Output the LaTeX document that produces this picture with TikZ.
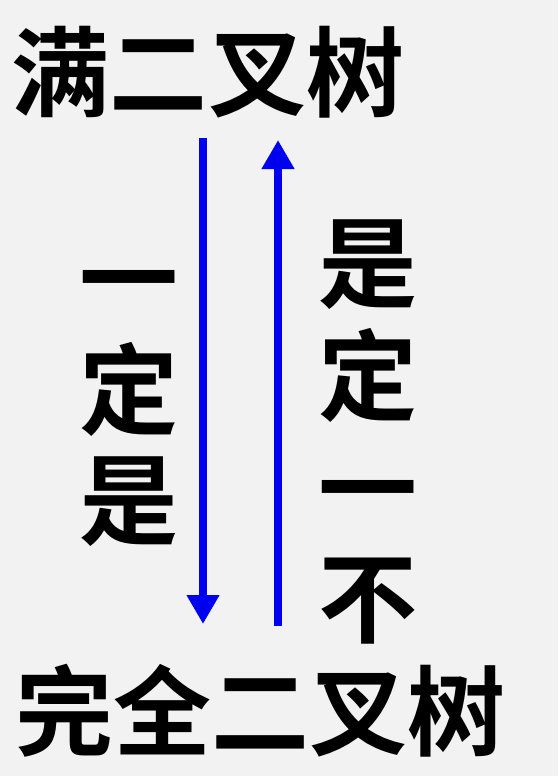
\documentclass[tikz,border=0pt]{standalone}
\usepackage{fontspec}
\newfontfamily\cjk{Noto Sans CJK SC}[BoldFont={* Bold}]
\usetikzlibrary{arrows.meta}
\definecolor{bg}{HTML}{F2F2F2}
\definecolor{arrowblue}{HTML}{0000F0}
\begin{document}
\begin{tikzpicture}[x=1pt,y=-1pt,
  lbl/.style={inner sep=0pt, font=\cjk\bfseries\fontsize{98}{98}\selectfont, text=black},
  ch/.style={inner sep=0pt, font=\cjk\bfseries\fontsize{99}{99}\selectfont, text=black},
  arr/.style={draw=arrowblue, line width=8pt, -{Triangle[width=31pt,length=29pt]}}]
\fill[bg] (0,0) rectangle (558,776);
\useasboundingbox (0,0) rectangle (558,776);
\node[lbl] (top) at (208,72) {满二叉树};
\node[lbl] (bot) at (260,711) {完全二叉树};
\coordinate (la) at (203,138);
\coordinate (lb) at (203,624);
\coordinate (ra) at (278,626);
\coordinate (rb) at (278,140);
\draw[arr] (la) -- (lb);
\draw[arr] (ra) -- (rb);
\node[ch] (l1) at (129,293) {一};
\node[ch] (l2) at (129,389) {定};
\node[ch] (l3) at (129,502) {是};
\node[ch] (r1) at (368,265) {是};
\node[ch] (r2) at (368,375) {定};
\node[ch] (r3) at (368,503) {一};
\node[ch] (r4) at (368,601) {不};
\end{tikzpicture}
\end{document}
